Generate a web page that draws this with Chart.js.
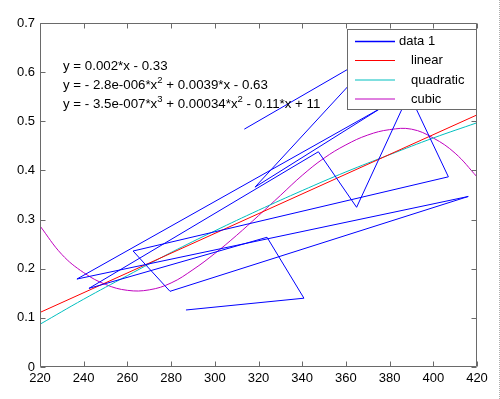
<!DOCTYPE html>
<html>
<head>
<meta charset="utf-8">
<script src="https://cdn.jsdelivr.net/npm/chart.js@4/dist/chart.umd.min.js"></script>
<style>
html,body{margin:0;padding:0;background:#fff;}
#wrap{position:relative;width:500px;height:399px;}
#edge{position:absolute;left:499px;top:0;width:0;height:399px;border-left:1px dotted #b0b0b0;}
canvas{display:block;}
</style>
</head>
<body>
<div id="wrap"><canvas id="c" width="500" height="399"></canvas><div id="edge"></div></div>
<script>
// ---- data ----
const dataX = [286.8, 340.8, 323.9, 242.4, 347.4, 364.9, 388.9, 406.9, 262.6, 279.5, 416.0, 236.9, 376.1, 318.4, 376.5, 313.5];
const dataY = [0.116, 0.140, 0.264, 0.160, 0.438, 0.325, 0.556, 0.387, 0.236, 0.154, 0.347, 0.179, 0.527, 0.366, 0.646, 0.484];

const linX = [220, 420];
const linY = [0.111, 0.513];

const quadX = [220, 240, 260, 280, 300, 320, 340, 360, 380, 400, 420];
const quadY = [0.087, 0.138, 0.186, 0.233, 0.277, 0.319, 0.359, 0.397, 0.432, 0.466, 0.497];

const cubX = [220, 230, 240, 250, 260, 270, 280, 290, 300, 310, 320, 330, 340, 350, 360, 370, 380, 390, 400, 410, 420];
const cubY = [0.287, 0.229, 0.192, 0.168, 0.156, 0.157, 0.171, 0.198, 0.231, 0.268, 0.308, 0.349, 0.390, 0.425, 0.452, 0.472, 0.483, 0.484, 0.466, 0.435, 0.387];

const seriesNames = ['data 1', 'linear', 'quadratic', 'cubic'];
const seriesColors = ['rgb(0,0,255)', 'rgb(255,0,0)', 'rgb(0,191,191)', 'rgb(191,0,191)'];

const xTicks = [220, 240, 260, 280, 300, 320, 340, 360, 380, 400, 420];
const yTicks = [0, 0.1, 0.2, 0.3, 0.4, 0.5, 0.6, 0.7];
const yTickLabels = ['0', '0.1', '0.2', '0.3', '0.4', '0.5', '0.6', '0.7'];

const eqLines = [
  [{t: 'y = 0.002*x - 0.33'}],
  [{t: 'y = - 2.8e-006*x'}, {t: '2', sup: true}, {t: ' + 0.0039*x - 0.63'}],
  [{t: 'y = - 3.5e-007*x'}, {t: '3', sup: true}, {t: ' + 0.00034*x'}, {t: '2', sup: true}, {t: ' - 0.11*x + 11'}]
];

const FONT = '"Liberation Sans", Arial, Helvetica, sans-serif';
const zip = (xs, ys) => xs.map((x, i) => ({x: x, y: ys[i]}));

const axisColor = '#6a6a6a';

const decor = {
  id: 'decor',
  afterDraw(chart) {
    const ctx = chart.ctx;
    const a = chart.chartArea;
    const xs = chart.scales.x, ys = chart.scales.y;
    const L = Math.round(a.left) + 0.5, R = Math.round(a.right) - 0.5;
    const T = Math.round(a.top) + 0.5, B = Math.round(a.bottom) - 0.5;
    ctx.save();
    ctx.strokeStyle = axisColor;
    ctx.lineWidth = 1;
    ctx.beginPath();
    ctx.rect(L, T, R - L, B - T);
    ctx.stroke();
    // inward ticks
    ctx.beginPath();
    xTicks.forEach(v => {
      const p = Math.round(xs.getPixelForValue(v)) + 0.5;
      ctx.moveTo(p, B); ctx.lineTo(p, B - 5);
      ctx.moveTo(p, T); ctx.lineTo(p, T + 5);
    });
    yTicks.forEach(v => {
      const p = Math.round(ys.getPixelForValue(v)) + 0.5;
      ctx.moveTo(L, p); ctx.lineTo(L + 5, p);
      ctx.moveTo(R, p); ctx.lineTo(R - 5, p);
    });
    ctx.stroke();

    // equations
    ctx.fillStyle = '#000';
    ctx.textBaseline = 'middle';
    ctx.textAlign = 'left';
    const eqY = [66, 85, 104];
    eqLines.forEach((segs, i) => {
      let x = 63;
      segs.forEach(s => {
        if (s.sup) {
          ctx.font = '9.5px ' + FONT;
          ctx.fillText(s.t, x, eqY[i] - 5);
        } else {
          ctx.font = '13.3px ' + FONT;
          ctx.fillText(s.t, x, eqY[i]);
        }
        x += ctx.measureText(s.t).width;
      });
    });

    // legend
    const lx = 347.5, ly = 29.5, lw = 129, lh = 80;
    ctx.fillStyle = '#fff';
    ctx.fillRect(lx, ly, lw, lh);
    ctx.strokeStyle = axisColor;
    ctx.strokeRect(lx, ly, lw, lh);
    const rows = [41.5, 60.5, 80, 99];
    const textX = [399, 411, 411, 411];
    ctx.font = '13px ' + FONT;
    seriesNames.forEach((n, i) => {
      ctx.strokeStyle = seriesColors[i];
      ctx.lineWidth = i === 0 ? 1.5 : 1;
      ctx.beginPath();
      ctx.moveTo(355, rows[i]); ctx.lineTo(395, rows[i]);
      ctx.stroke();
      ctx.fillStyle = '#000';
      ctx.fillText(n, textX[i], rows[i]);
    });
    ctx.restore();
  }
};

const mk = (label, pts, color, tension) => ({
  label: label, data: pts, borderColor: color, backgroundColor: color,
  borderWidth: 1, pointRadius: 0, showLine: true, fill: false, tension: tension
});

new Chart(document.getElementById('c'), {
  type: 'scatter',
  data: {
    datasets: [
      mk(seriesNames[0], zip(dataX, dataY), seriesColors[0], 0),
      mk(seriesNames[1], zip(linX, linY), seriesColors[1], 0),
      mk(seriesNames[2], zip(quadX, quadY), seriesColors[2], 0.4),
      mk(seriesNames[3], zip(cubX, cubY), seriesColors[3], 0.4)
    ]
  },
  options: {
    responsive: false,
    animation: false,
    devicePixelRatio: 1,
    layout: {padding: {top: 23, right: 23, left: 0, bottom: 0}},
    plugins: {legend: {display: false}, tooltip: {enabled: false}},
    scales: {
      x: {
        type: 'linear', min: 220, max: 420,
        afterBuildTicks: s => { s.ticks = xTicks.map(v => ({value: v})); },
        afterFit: s => { s.height = 32; },
        grid: {display: false, drawTicks: false},
        border: {display: false},
        ticks: {color: '#000', font: {family: FONT, size: 13}, padding: 4, maxRotation: 0, autoSkip: false,
                callback: v => String(v)}
      },
      y: {
        type: 'linear', min: 0, max: 0.7,
        afterBuildTicks: s => { s.ticks = yTicks.map(v => ({value: v})); },
        afterFit: s => { s.width = 40; },
        grid: {display: false, drawTicks: false},
        border: {display: false},
        ticks: {color: '#000', font: {family: FONT, size: 13}, padding: 5, autoSkip: false,
                callback: (v, i) => yTickLabels[i]}
      }
    }
  },
  plugins: [decor]
});
</script>
</body>
</html>
